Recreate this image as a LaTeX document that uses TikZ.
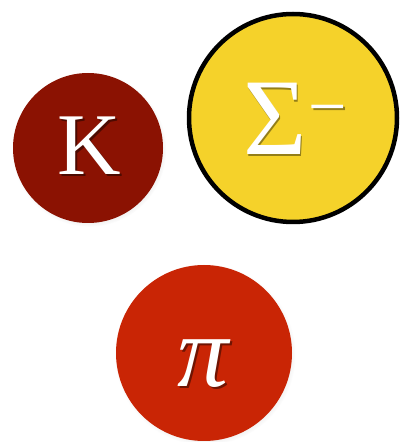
\documentclass[tikz,border=0pt]{standalone}
\usepackage{fontspec}
\setmainfont{Liberation Serif}
\usetikzlibrary{shadows}
\definecolor{kred}{RGB}{139,18,2}
\definecolor{pired}{RGB}{201,37,5}
\definecolor{sigyel}{RGB}{245,210,42}
\tikzset{
  ball/.style={circle, inner sep=0pt, outer sep=0pt},
  softshadow/.style={circular drop shadow={shadow xshift=1pt, shadow yshift=-1.5pt, shadow scale=1.03, opacity=0.25}},
  lbl/.style={inner sep=0pt, outer sep=0pt, anchor=base, text=white}
}
\newcommand{\shadowed}[2]{\makebox[0pt][l]{\kern1.8pt\raisebox{-1.8pt}{\color{#1}#2}}#2}
\begin{document}
\begin{tikzpicture}[x=1pt,y=1pt]
\useasboundingbox (0,0) rectangle (400,442);
% K
\node[ball, fill=kred, minimum size=150pt, softshadow] (kball) at (88,294) {};
% Sigma
\node[ball, fill=sigyel, draw=black, line width=4.5pt, minimum size=208pt] (sball) at (293,324) {};
% pi
\node[ball, fill=pired, minimum size=176pt, softshadow] (pball) at (204,89) {};
% labels
\node[lbl] (k) at (89,267) {\fontsize{88}{88}\selectfont\shadowed{kred!55!black}{K}};
\node[lbl] (s) at (295,287) {\fontsize{109}{109}\selectfont\shadowed{sigyel!60!black}{Σ}\kern2pt\raisebox{25pt}{\fontsize{68}{68}\selectfont\shadowed{sigyel!60!black}{−}}};
\node[lbl] (p) at (203,55) {\fontsize{102}{102}\selectfont\itshape\shadowed{pired!55!black}{π}};
\end{tikzpicture}
\end{document}
